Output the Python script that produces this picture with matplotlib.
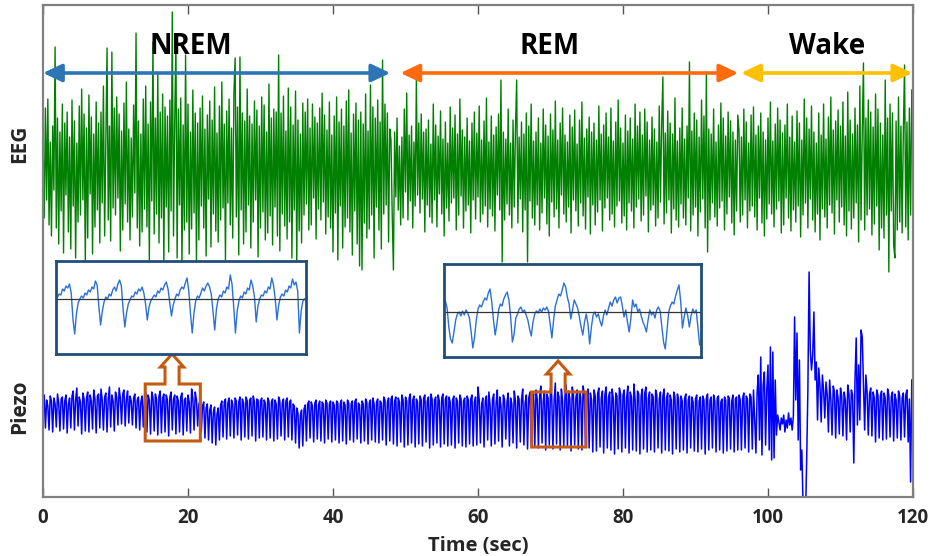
import numpy as np
import matplotlib
matplotlib.use('Agg')
import matplotlib.pyplot as plt
from matplotlib.patches import Polygon

plt.rcParams['font.family'] = ['Open Sans', 'DejaVu Sans']

fs = 6  # samples per second of the traces below

# EEG trace, arbitrary units (positive up), 2 s per row
eeg_nrem = [
    35, -48, 62, -30, 71, -55, 28, -66, 44, -20, 123, -58,
    52, -74, 38, -41, 66, -83, 47, -25, 58, -62, 33, -79,
    70, -36, 49, -88, 27, -52, 64, -45, 81, -30, 56, -92,
    42, -68, 75, -24, 53, -84, 36, -57, 68, -40, 47, -73,
    58, -33, 84, -66, 29, 122, -50, 44, -71, 118, -38, 62,
    -45, 73, -28, 56, -81, 39, -60, 67, -34, 88, -52, 41,
    -70, 32, -47, 65, -23, 137, -58, 49, -76, 36, -62, 71,
    -39, 84, -57, 46, -90, 68, -31, 128, -64, 52, -44, 97,
    -73, 58, -48, 76, -95, 63, -37, 54, -82, 70, -41, 158,
    -66, 49, 127, -88, 61, -35, 72, -97, 45, -60, 115, -52,
    66, -84, 38, -59, 80, -43, 57, -92, 47, -70, 62, -36,
    74, -58, 41, -86, 55, -29, 69, -77, 50, -44, 83, -61,
    37, -72, 64, -50, 88, -38, 46, -90, 59, -33, 71, -55,
    42, -68, 77, 112, -47, 63, -85, 113, -40, 57, -74, 49,
    -62, 81, -35, 54, -78, 46, -52, 69, -30, 60, -87, 44,
    -58, 73, -42, 65, -70, 38, -63, 86, -46, 52, -75, 61,
    -37, 58, -66, 115, -81, 57, -44, 74, -56, 39, -69, 82,
    -52, 63, -88, 45, -40, 79, -94, 50, -61, 36, -73, 67,
    -45, 58, -34, 71, -60, 42, -55, 66, -28, 53, -69, 47,
    -39, 62, -50, 77, -32, 55, -64, 40, -47, 68, -58, 35,
    -82, 54, -43, 73, -90, 48, -36, 61, -78, 44, -57, 69,
    -48, 80, -62, 37, -85, 56, -41, 67, -74, 50, -96, 58,
    -100, 46, -53, 76, -68, 39, -59, 85, -45, 63, -88, 52,
    -37, 70, -60, 48, -79, 110, -44, 66, -35, 57, -72, 41,
]
eeg_rem = [
    30, -45, -100, 38, -27, 52, -40, 24, -55, 33, -48, 61,
    -22, 77, -50, 35, -31, 44, -58, 28, -36, 90, -25, 47,
    -43, 56, -29, 38, -62, 41, -35, 50, -47, 26, -53, 66,
    -30, 45, -57, 34, -24, 59, -44, 31, -66, 48, -38, 27,
    -51, 63, -33, 42, -28, 55, -60, 36, -45, 71, -26, 40,
    -58, 33, -41, 52, -35, 29, -63, 47, -30, 58, -49, 37,
    -27, 64, -52, 30, -44, 49, -36, 72, -57, 28, -39, 54,
    -46, 35, -61, 43, -25, 56, -40, 90, -92, 38, -50, 31,
    -34, 61, -45, 27, -58, 50, -37, 41, 90, -53, 33, -29,
    48, -62, 36, -40, 57, -92, 44, -31, 66, -48, 29, -55,
    38, -35, 52, -60, 27, -43, 61, -28, 45, -54, 34, -66,
    56, -32, 40, -47, 69, -39, 30, -58, 47, -25, 62, -44,
    35, -52, 28, -37, 55, -63, 43, -30, 60, -41, 26, -56,
    50, -33, 68, -46, 32, -59, 41, -27, 53, -64, 38, -35,
    47, -55, 30, -42, 64, -30, 36, -61, 45, -38, 57, -28,
    33, -50, 62, -44, 29, -57, 48, -36, 70, -31, 42, -53,
    27, -46, 55, -60, 39, -33, 52, -41, 31, -58, 66, -37,
    44, -29, 58, -51, 35, -45, 61, -26, 48, -62, 30, -40,
    53, -35, 41, -56, 28, -48, 64, -32, 45, 93, -54, 37,
    -43, 59, -30, 47, -63, 36, -39, 72, -50, 29, -57, 42,
    -34, 62, -48, 31, -55, 44, -28, 108, -61, 39, -45, 57,
    -37, 50, -66, 33, -42, 70, -29, 54, -58, 97, -82, 41,
    -50, 36, -33, 61, -47, 28, -56, 45, -38, 67, -31, 52,
    -60, 34, -44, 58, -27, 49, -53, 38, -65, 30, -41, 55,
]
eeg_wake = [
    40, -52, 33, -45, 61, -30, 48, -58, 27, -41, 55, -36,
    63, -47, 35, -60, 44, -28, 57, -53, 38, -66, 30, -49,
    52, -34, 68, -44, 29, -57, 46, -39, 62, -31, 50, -63,
    37, -55, 45, -28, 66, -48, 33, -61, 54, -40, 28, -52,
    59, -36, 47, -67, 30, -45, 71, -33, 52, -58, 41, -29,
    64, -50, 38, -62, 27, -44, 57, -70, 35, -39, 66, -47,
    31, -58, 53, -35, 73, -43, 40, -64, 49, -30, 60, -52,
    44, -37, 68, -55, 34, -66, 78, -41, 50, -59, 36, -48,
    62, -33, 45, -72, 84, -50, 38, 107, -60, 52, -45, 70,
    -39, 58, -65, 43, -54, 76, -36, 61, -80, 47, -58, 35,
    -68, 90, -45, 52, -102, 66, -41, 57, -75, -88, 49, -60,
    73, -52, 44, -63, 38, 105, -57, 48, -70, 62, -45, 80,
]

# piezo (breathing / movement) trace, same sampling
piezo_nrem = [
    8, 15, -18, 10, 4, -20, 14, 9, -22, 12, 6, -17,
    16, 7, -21, 11, 13, -19, 9, 15, -23, 6, 12, -18,
    14, 19, -20, 10, 22, -16, 13, 8, -24, 17, 11, -21,
    12, 18, -22, 15, 9, -19, 20, 11, -23, 14, 16, -18,
    21, 10, -20, 13, 17, -22, 11, 23, -17, 15, 9, -21,
    18, 13, -15, 22, 12, -14, 16, 20, -16, 11, 19, -13,
    14, 9, -15, 12, 16, -18, 10, 13, -20, 8, 14, -17,
    12, 17, -22, 15, 10, -24, 18, 13, -21, 16, 11, -25,
    14, 19, -23, 12, 16, -22, 15, 10, -26, 13, 18, -20,
    11, 15, -24, 14, 9, -22, 13, 17, -25, 10, 12, -21,
    15, 8, -23, 21, 12, -20, 18, 10, -16, 6, 9, -22,
    4, 8, -28, 2, 6, -30, 0, 5, -33, -2, 3, -35,
    -4, 2, -30, 5, 9, -27, 8, 11, -29, 7, 12, -26,
    10, 6, -28, 12, 9, -25, 8, 13, -30, 11, 7, -27,
    13, 9, -29, 10, 12, -26, 14, 8, -31, 11, 10, -28,
    9, 12, -27, 10, 7, -30, 12, 9, -28, 8, 11, -31,
    10, 6, -29, 13, 9, -26, 7, 11, -30, 9, 12, -27,
    8, 10, -30, 6, 4, -33, 2, -3, -38, -5, 0, -36,
    1, 5, -31, 6, 9, -28, 8, 4, -32, 7, 10, -29,
    5, 9, -31, 8, 6, -33, 10, 7, -29, 6, 9, -32,
    8, 5, -30, 9, 7, -33, 6, 10, -31, 8, 5, -34,
    10, 7, -30, 6, 9, -32, 8, 11, -29, 7, 5, -33,
    9, 6, -31, 11, 8, -34, 7, 10, -30, 12, 6, -32,
    8, 11, -33, 9, 7, -30, 13, 10, -35, 8, 12, -31,
]
piezo_rem = [
    11, 14, -34, 9, 13, -36, 12, 8, -32, 15, 10, -37,
    13, 9, -35, 12, 16, -33, 10, 14, -37, 11, 8, -34,
    14, 10, -36, 12, 15, -32, 9, 13, -38, 16, 11, -35,
    10, 13, -33, 15, 9, -37, 12, 16, -34, 11, 14, -36,
    13, 8, -35, 10, 14, -38, 12, 9, -33, 15, 11, -36,
    9, 12, -37, 14, 10, -34, 11, 15, -36, 8, 13, -35,
    23, 10, -33, 6, 12, -37, 9, 14, -30, 18, 5, -36,
    11, 16, -34, 7, 20, -31, 13, 4, -37, 15, 10, -29,
    8, 17, -36, 12, 6, -33, 19, 9, -38, 14, 11, -32,
    10, 21, -35, 7, 15, -39, 12, 18, -31, 9, 16, -37,
    20, 11, -38, 14, 24, -33, 9, 19, -40, 16, 12, -35,
    22, 15, -39, 10, 27, -34, 18, 13, -40, 21, 9, -36,
    14, 25, -37, 19, 11, -41, 23, 16, -35, 12, 20, -39,
    18, 13, -40, 24, 15, -36, 11, 21, -38, 17, 10, -42,
    20, 14, -41, 16, 22, -37, 12, 19, -43, 15, 23, -38,
    13, 18, -40, 21, 11, -44, 17, 14, -39, 22, 16, -42,
    15, 20, -38, 12, 24, -43, 18, 13, -40, 26, 11, -41,
    19, 16, -44, 14, 21, -39, 17, 23, -42, 12, 18, -40,
    16, 13, -42, 20, 15, -38, 11, 18, -43, 14, 21, -40,
    12, 17, -41, 15, 10, -44, 18, 13, -39, 16, 11, -42,
    14, 9, -40, 12, 16, -43, 10, 14, -38, 13, 8, -41,
    11, 15, -42, 9, 13, -39, 14, 10, -44, 12, 16, -40,
    10, 13, -38, 15, 9, -42, 12, 14, -40, 8, 11, -43,
    13, 10, -41, 14, 12, -39, 9, 15, -42, 11, 13, -40,
]
piezo_wake = [
    15, 10, -40, 12, 17, -38, 14, 11, -42, 16, 13, -39,
    20, -10, -43, 18, 35, -30, 53, -45, 25, 38, -35, 20,
    45, -40, 63, -50, 58, -48, 30, -25, -5, -12, -20, -8,
    -14, -5, -22, -10, -18, -3, -15, -8, -20, -6, 93, 10,
    77, -30, 50, -60, -40, -95, -120, -110, -50, 20, 138, 60,
    40, 55, 98, 30, 48, -10, 42, 25, -12, 35, 20, -8,
    28, 15, -22, 30, 10, -25, 24, 18, -28, 20, 12, -24,
    22, 14, -26, 18, 10, -30, 25, 16, -22, 20, 15, -53,
    30, 72, -15, 45, -10, 80, 73, 25, -20, 35, 18, -25,
    16, 22, -26, 18, 12, -32, 20, 15, -28, 14, 19, -30,
    17, 12, -29, 21, 15, -27, 13, 18, -31, 16, 10, -28,
    19, 14, -30, 12, 17, -27, 15, 20, -32, 11, -72, 30,
]

# zoomed piezo segments shown in the two insets
zoom_nrem = [
    2, 5, 4, 10, 8, 13, 11, 15, 6, -20, -35,
    -15, -4, 0, 3, 1, 6, 4, 9, 7, 12, 10, 18, 14, -8, -26,
    -12, -3, 2, 0, 5, 3, 9, 12, 8, 15, 19, 13, -10, -28,
    -14, -5, -1, 3, 2, 7, 5, 10, 8, 12, 6, -5, -21,
    -8, -2, 1, 4, 2, 8, 6, 11, 9, 14, 17, 10, -4, -17,
    -6, 0, 5, 3, 9, 12, 10, 16, 21, 8, -15, -34,
    -14, -2, 3, 1, 6, 11, 8, 13, 16, 12, 5, -12, -31,
    -10, 0, 4, 2, 8, 6, 12, 10, 24, 15, -8, -34,
    -12, -2, 3, 1, 7, 5, 11, 9, 19, 13, 2, -23,
    -7, 0, 4, 3, 8, 6, 12, 10, 21, 14, 0, -21,
    -6, 2, 5, 3, 9, 7, 13, 11, 20, 14, 17, 8, -34,
    -12, -2, 0,
]
zoom_rem = [
    11, 4, -15, -27, -31, -20, -8, -2, 0, -4, 1, -3, 2, -1, -6, -20,
    -36, -25, -8, 3, 7, 5, 10, 14, 12, 19, 23, 10, -8, -23, -12, 2,
    8, 6, 13, 17, 20, 12, -5, -30, -22, -6, -2, 3, 5, 0, 2, -3,
    -8, -17, -24, -10, -2, 1, -1, 3, 0, 4, 2, 5, 1, -12, -26, -8,
    6, 12, 18, 16, 22, 29, 25, 15, 8, -7, 2, 12, 8, 4, -5, -15,
    -23, -10, -2, -12, -32, -15, -3, 0, -5, -2, -9, -14, -4, 2, -3, 4,
    10, 6, 12, 15, 9, 14, 15, 6, -5, 2, -10, -20, -6, 12, 5, 8,
    0, 3, -4, -10, -14, -20, -8, 2, -3, 0, -6, 2, 5, 1, -15, -30,
    -37, -18, 0, 6, 10, 8, 16, 22, 27, 10, -16, -5, 4, -3, -15, -4,
    3, -1, 2, -15, -33,
]

stage_names = ['NREM', 'REM', 'Wake']
stage_start = [0.0, 49.3, 96.3]
stage_end = [47.9, 95.9, 119.9]
stage_colors = ['#2E75B6', '#FF6A0D', '#FFC000']

# time windows (s) marked on the piezo trace
zoom_windows = [(14.1, 21.7), (67.4, 74.9)]

eeg = np.array(eeg_nrem + eeg_rem + eeg_wake, dtype=float)
piezo = np.array(piezo_nrem + piezo_rem + piezo_wake, dtype=float)
t_eeg = np.arange(len(eeg)) / fs
t_piezo = np.arange(len(piezo)) / fs

eeg_base = 327
piezo_base = 87

fig = plt.figure(figsize=(9.33, 5.56), dpi=100)
ax = fig.add_axes([43 / 933, 59 / 556, 870 / 933, 492 / 556])

ax.plot(t_eeg, eeg_base + eeg, color='#008000', lw=1.0)
ax.plot(t_piezo, piezo_base + piezo, color='#0000FF', lw=1.1)

ax.set_xlim(0, 120)
ax.set_ylim(0, 492)
ax.set_xticks([0, 20, 40, 60, 80, 100, 120])
ax.set_yticks([])
ax.tick_params(axis='x', direction='in', length=6.5, width=1, color='#555555',
               top=True, pad=8, labelsize=13.5)
for lab in ax.get_xticklabels():
    lab.set_fontweight('bold')
    lab.set_color('#262626')
for sp in ax.spines.values():
    sp.set_color('#808080')
    sp.set_linewidth(1.6)

ax.set_xlabel('Time (sec)', fontsize=14.5, fontweight='bold', color='#262626', labelpad=6)
fig.text(20 / 933, 1 - 144 / 556, 'EEG', rotation=90, fontsize=15, fontweight='bold',
         color='#262626', ha='center', va='center')
fig.text(20 / 933, 1 - 407 / 556, 'Piezo', rotation=90, fontsize=15, fontweight='bold',
         color='#262626', ha='center', va='center')

# sleep stage arrows with labels
arrow_y = 424
label_shift = [-3.5, -2.7, 0.0]
for name, a, b, c, dx in zip(stage_names, stage_start, stage_end, stage_colors, label_shift):
    ax.annotate('', xy=(b, arrow_y), xytext=(a, arrow_y),
                arrowprops=dict(arrowstyle='<|-|>,head_length=0.95,head_width=0.45',
                                color=c, lw=2.6, shrinkA=0, shrinkB=0,
                                mutation_scale=12), zorder=5)
    ax.text((a + b) / 2 + dx, arrow_y + 27, name,
            fontsize=20, fontweight='bold', ha='center', va='center', zorder=6)

# block-arrow outlines around the zoomed windows
box_lo = [56, 50]
box_hi = [113, 105]
tip_y = [143, 136]
for (x0, x1), lo, hi, ty in zip(zoom_windows, box_lo, box_hi, tip_y):
    xc = (x0 + x1) / 2 - 0.1
    stem = 0.97
    head = 1.6
    neck = ty - 13
    pts = [(x0, lo), (x0, hi), (xc - stem, hi), (xc - stem, neck), (xc - head, neck),
           (xc, ty), (xc + head, neck), (xc + stem, neck), (xc + stem, hi),
           (x1, hi), (x1, lo)]
    ax.add_patch(Polygon(pts, closed=True, fill=False, edgecolor='#C55A11',
                         lw=2.2, joinstyle='miter', zorder=4))

# inset panels with the zoomed piezo segments
insets = [
    (zoom_nrem, [56 / 933, 1 - 354 / 556, 250 / 933, 93 / 556], (-55, 38)),
    (zoom_rem, [444 / 933, 1 - 357 / 556, 257 / 933, 93 / 556], (-45, 48)),
]
for seg, rect, ylim in insets:
    iax = fig.add_axes(rect)
    iax.plot(np.arange(len(seg)), seg, color='#2A6FDB', lw=1.0)
    iax.axhline(0, color='#333333', lw=0.9)
    iax.set_xlim(-0.8, len(seg) - 0.2)
    iax.set_ylim(*ylim)
    iax.set_xticks([])
    iax.set_yticks([])
    for sp in iax.spines.values():
        sp.set_color('#1F4E79')
        sp.set_linewidth(2)

fig.savefig('out.png', dpi=100)
